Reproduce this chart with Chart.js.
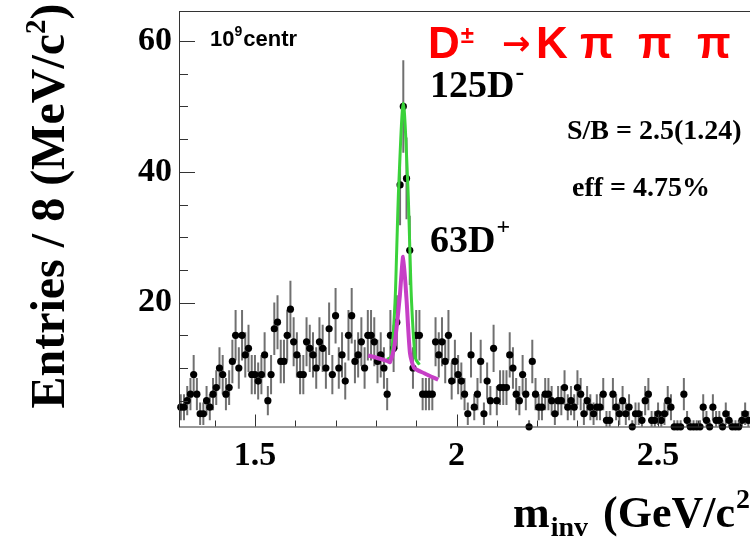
<!DOCTYPE html>
<html>
<head>
<meta charset="utf-8">
<script src="https://cdn.jsdelivr.net/npm/chart.js@4"></script>
<style>
html, body { margin: 0; padding: 0; background: #fff; overflow: hidden; }
#wrap { position: relative; width: 800px; height: 538px; }
</style>
</head>
<body>
<div id="wrap"><canvas id="myChart" width="800" height="538"></canvas></div>
<script>
// histogram: 8 MeV bins starting at 1.312 GeV
const binStart = 1.312;
const binWidth = 0.008;
const counts = [
    4, 4, 5, 6, 9, 6, 3, 3, 5, 4, 6, 7, 10, 9, 6, 7, 11, 15, 10, 15,
    12, 13, 9, 9, 8, 9, 12, 5, 9, 16, 17, 11, 11, 15, 19, 14, 12, 9, 9, 14,
    13, 12, 10, 14, 13, 10, 16, 9, 18, 10, 12, 8, 15, 18, 11, 12, 14, 10, 15, 15,
    14, 11, 12, 10, 6, 15, 13, 17, 38, 50, 39, 28, 10, 15, 15, 6, 6, 6, 6, 14,
    12, 14, 11, 15, 8, 11, 9, 8, 6, 3, 12, 4, 6, 11, 3, 8, 5, 13, 5, 7,
    7, 7, 12, 10, 6, 5, 9, 6, 1, 11, 6, 4, 4, 6, 6, 5, 3, 5, 5, 7,
    4, 5, 4, 7, 6, 3, 5, 4, 3, 4, 4, 6, 2, 2, 6, 4, 3, 5, 3, 4,
    1, 3, 3, 2, 5, 6, 2, 2, 3, 2, 3, 5, 4, 1, 1, 1, 6, 2, 1, 1,
    1, 1, 4, 2, 1, 4, 2, 2, 1, 3, 2, 1, 1, 1, 2, 3, 2
];
const binCenters = counts.map((n, i) => binStart + binWidth * (i + 0.5));

// fitted curves
const fitAllX = [1.828, 1.838, 1.8474, 1.8514, 1.8568, 1.868, 1.8792, 1.8846, 1.8886, 1.898, 1.908];
const fitAllY = [11.3, 11.8, 20, 27.5, 38, 50.5, 38, 27.5, 20, 11.5, 10.5];
const fitPlusX = [1.7808, 1.80, 1.83, 1.835, 1.845, 1.852, 1.8594, 1.8676, 1.876, 1.8845, 1.895, 1.92, 1.9545];
const fitPlusY = [11.9, 11.6, 11.0, 10.9, 13.0, 16.5, 21, 27, 20.5, 12.3, 10.0, 9.2, 8.2];

const majorX = [1.5, 2, 2.5];
const majorY = [20, 40, 60];

const serif = '"Liberation Serif", "Times New Roman", serif';
const sans = '"Liberation Sans", Arial, sans-serif';

const isMajor = (v, list) => list.some(m => Math.abs(m - v) < 1e-6);

const errorBars = {
    id: 'errorBars',
    beforeDatasetsDraw(chart) {
        const ctx = chart.ctx, xs = chart.scales.x, ys = chart.scales.y, a = chart.chartArea;
        ctx.save();
        ctx.beginPath();
        ctx.rect(a.left, a.top, a.right - a.left, a.bottom - a.top);
        ctx.clip();
        ctx.strokeStyle = '#707070';
        ctx.lineWidth = 2;
        counts.forEach((n, i) => {
            const x = xs.getPixelForValue(binCenters[i]);
            const e = Math.sqrt(n);
            ctx.beginPath();
            ctx.moveTo(x, ys.getPixelForValue(n - e));
            ctx.lineTo(x, ys.getPixelForValue(n + e));
            ctx.stroke();
        });
        ctx.restore();
    }
};

// frame, inward tick marks and all the text
const frameAndText = {
    id: 'frameAndText',
    afterDraw(chart) {
        const ctx = chart.ctx, xs = chart.scales.x, ys = chart.scales.y, a = chart.chartArea;
        ctx.save();
        ctx.strokeStyle = '#333';
        ctx.lineWidth = 1;
        ctx.strokeRect(a.left + 0.5, a.top + 0.5, a.right - a.left, a.bottom - a.top);
        ctx.beginPath();
        xs.ticks.forEach(t => {
            const x = Math.round(xs.getPixelForValue(t.value)) + 0.5;
            const len = isMajor(t.value, majorX) ? 12 : 6;
            ctx.moveTo(x, a.bottom);
            ctx.lineTo(x, a.bottom - len);
        });
        ys.ticks.forEach(t => {
            const y = Math.round(ys.getPixelForValue(t.value)) + 0.5;
            const len = isMajor(t.value, majorY) ? 16 : 9;
            ctx.moveTo(a.left, y);
            ctx.lineTo(a.left + len, y);
        });
        ctx.stroke();

        ctx.fillStyle = '#000';
        ctx.textBaseline = 'alphabetic';
        ctx.textAlign = 'left';
        const put = (s, x, y, font) => {
            ctx.font = font;
            ctx.fillText(s, x, y);
            return x + ctx.measureText(s).width;
        };

        // y title
        ctx.save();
        ctx.translate(64, 206);
        ctx.rotate(-Math.PI / 2);
        ctx.font = 'bold 48px ' + serif;
        const w1 = ctx.measureText('Entries / 8 (MeV/c').width;
        ctx.font = 'bold 29px ' + serif;
        const w2 = ctx.measureText('2').width;
        ctx.font = 'bold 48px ' + serif;
        const w3 = ctx.measureText(')').width;
        let x0 = -(w1 + w2 + w3) / 2;
        x0 = put('Entries / 8 (MeV/c', x0, 0, 'bold 48px ' + serif);
        x0 = put('2', x0, -19, 'bold 29px ' + serif);
        put(')', x0, 0, 'bold 48px ' + serif);
        ctx.restore();

        // x title
        let xx = put('m', 513, 527, 'bold 44px ' + serif);
        xx = put('inv', xx + 1, 536, 'bold 28px ' + serif);
        xx = put(' (GeV/c', xx + 4, 527, 'bold 44px ' + serif);
        xx = put('2', xx + 1, 508, 'bold 28px ' + serif);
        put(')', xx + 1, 527, 'bold 44px ' + serif);

        // labels inside the frame
        xx = put('10', 210, 46, 'bold 22px ' + sans);
        xx = put('9', xx, 36, 'bold 14px ' + sans);
        put('centr', xx + 1, 46, 'bold 22px ' + sans);

        ctx.fillStyle = '#ff0000';
        xx = put('D', 428, 58, 'bold 44px ' + sans);
        put('\u00b1', xx + 1, 43, 'bold 24px ' + sans);
        put('\u2192', 502, 55, 'bold 34px "DejaVu Sans", sans-serif');
        put('K', 536, 58, 'bold 44px ' + sans);
        put('\u03c0', 580, 58, 'bold 44px ' + sans);
        put('\u03c0', 638, 58, 'bold 44px ' + sans);
        put('\u03c0', 697, 58, 'bold 44px ' + sans);

        ctx.fillStyle = '#000';
        xx = put('125D', 430, 97, 'bold 38px ' + serif);
        put('-', xx + 1, 80, 'bold 26px ' + serif);
        xx = put('63D', 430, 252, 'bold 38px ' + serif);
        put('+', xx + 1, 234, 'bold 24px ' + serif);
        put('S/B = 2.5(1.24)', 567, 139, 'bold 28px ' + serif);
        put('eff = 4.75%', 572, 196, 'bold 28px ' + serif);
        ctx.restore();
    }
};

const data = {
    datasets: [{
        label: 'fit D-',
        type: 'line',
        data: fitAllX.map((x, i) => ({x: x, y: fitAllY[i]})),
        borderColor: '#3ad23a',
        borderWidth: 3,
        pointRadius: 0,
        tension: 0.3,
        order: 2
    }, {
        label: 'fit D+',
        type: 'line',
        data: fitPlusX.map((x, i) => ({x: x, y: fitPlusY[i]})),
        borderColor: '#c63fc6',
        borderWidth: 4,
        pointRadius: 0,
        tension: 0.2,
        order: 1
    }, {
        label: 'data',
        type: 'scatter',
        data: binCenters.map((x, i) => ({x: x, y: counts[i]})),
        backgroundColor: '#000',
        borderColor: '#000',
        pointRadius: 3.6,
        pointBorderWidth: 0,
        clip: false,
        order: 3
    }]
};

const config = {
    type: 'scatter',
    data: data,
    options: {
        responsive: false,
        animation: false,
        layout: { padding: { left: 0, top: 11, right: 21, bottom: 0 } },
        plugins: { legend: { display: false }, tooltip: { enabled: false } },
        scales: {
            x: {
                type: 'linear',
                min: 1.3116,
                max: 2.8,
                grid: { display: false, drawTicks: false },
                border: { display: false },
                afterFit: s => { s.height = 111.5; s.paddingLeft = 0; s.paddingRight = 0; },
                ticks: {
                    stepSize: 0.1,
                    includeBounds: false,
                    autoSkip: false,
                    maxRotation: 0,
                    padding: 9,
                    color: '#000',
                    font: { family: serif, size: 34, weight: 'bold' },
                    callback: v => isMajor(v, majorX) ? String(v) : ''
                }
            },
            y: {
                type: 'linear',
                min: 1.05,
                max: 64.6,
                grid: { display: false, drawTicks: false },
                border: { display: false },
                afterFit: s => { s.width = 179; s.paddingTop = 0; s.paddingBottom = 0; },
                ticks: {
                    stepSize: 5,
                    includeBounds: false,
                    autoSkip: false,
                    padding: 7,
                    color: '#000',
                    font: { family: serif, size: 34, weight: 'bold' },
                    callback: v => isMajor(v, majorY) ? String(v) : ''
                }
            }
        }
    },
    plugins: [errorBars, frameAndText]
};

var myChart = new Chart(document.getElementById('myChart'), config);
</script>
</body>
</html>
